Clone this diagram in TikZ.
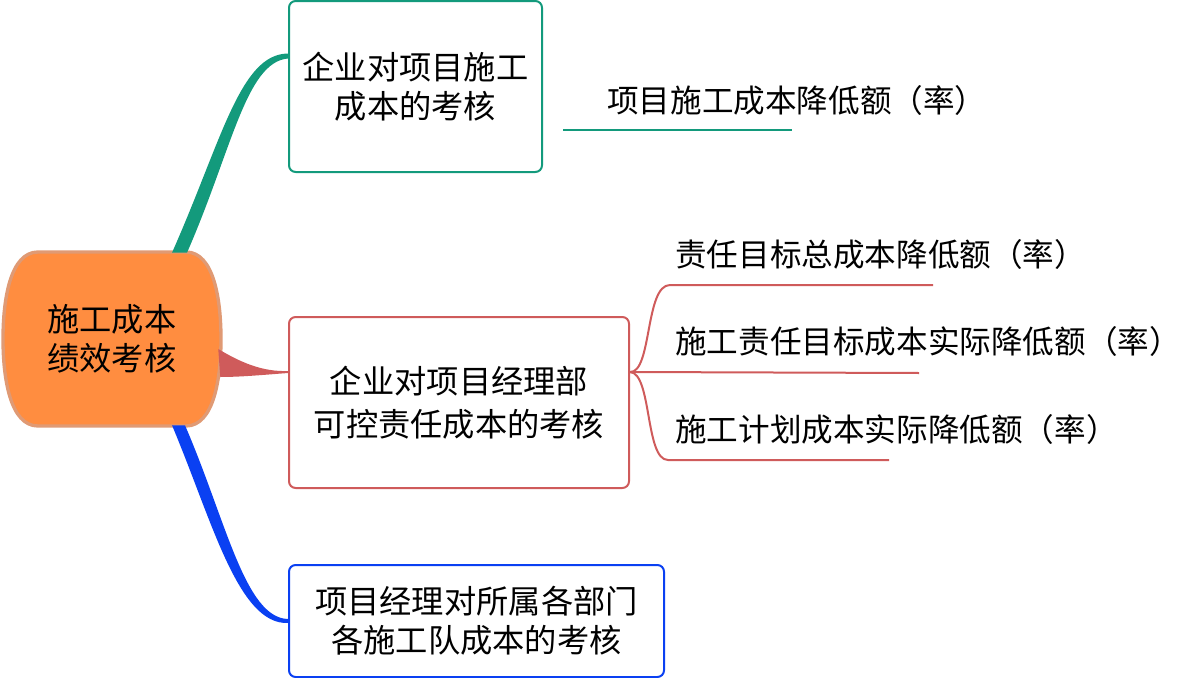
\documentclass[tikz,border=0pt]{standalone}
\usepackage{fontspec}
\setmainfont{Noto Sans CJK SC}
\usetikzlibrary{calc}
\definecolor{branchA}{RGB}{19,154,124}
\definecolor{branchB}{RGB}{207,91,91}
\definecolor{branchC}{RGB}{10,64,242}
\definecolor{rootfill}{RGB}{255,141,64}
\definecolor{rootline}{RGB}{224,154,116}
\tikzset{
 txt/.style={font=\fontsize{24.2}{29}\selectfont,align=center,inner sep=0pt},
 topic/.style={txt,draw,line width=1.5pt,rounded corners=5pt},
 leaf/.style={txt,anchor=west,font=\fontsize{23.7}{29}\selectfont}
}

\begin{document}
\begin{tikzpicture}[x=0.75pt,y=-0.75pt]
 \useasboundingbox (0,0) rectangle (1182,678);
 % central topic
 \filldraw[fill=rootfill,draw=rootline,line width=2.5pt]
   (38,252) -- (186,252) .. controls (214,252) and (221,300) .. (221,339)
   .. controls (221,378) and (214,426) .. (186,426) -- (38,426)
   .. controls (10,426) and (3,378) .. (3,339)
   .. controls (3,300) and (10,252) .. (38,252) -- cycle;
 \node[txt,minimum width=0.75*218pt,minimum height=0.75*174pt] (root) at (112,339) {施工成本\\绩效考核};
 % main topics
 \node[topic,draw=branchA,minimum width=0.75*253pt,minimum height=0.75*171pt] (b1) at (415.5,86.5) {企业对项目施工\\成本的考核};
 \node[topic,draw=branchB,minimum width=0.75*340pt,minimum height=0.75*171pt] (b2) at (459,402.5) {企业对项目经理部\\[3pt]可控责任成本的考核};
 \node[topic,draw=branchC,minimum width=0.75*375pt,minimum height=0.75*112pt] (b3) at (476.5,621) {项目经理对所属各部门\\各施工队成本的考核};
 % branches from the centre
 \fill[branchA] ($(root.north)+(60,1)$) .. controls (222,140) and (240,54) .. ($(b1.north west)+(0,53.5)$)
   -- ($(b1.north west)+(0,58.5)$) .. controls (246,62) and (232,150) .. ($(root.north)+(75,1)$) -- cycle;
 \fill[branchB] ($(root.east)+(-3,10)$) .. controls (240,362) and (262,372) .. ($(b2.north west)+(0,55)$)
   -- ($(b2.north west)+(0,57)$) .. controls (262,375) and (240,377) .. ($(root.east)+(-1,38)$) -- cycle;
 \fill[branchC] ($(root.south)+(60,-1)$) .. controls (212,520) and (238,625) .. ($(b3.north west)+(0,59)$)
   -- ($(b3.north west)+(0,55)$) .. controls (245,618) and (226,520) .. ($(root.south)+(73,-1)$) -- cycle;
 % sub topics
 \node[leaf] (c1) at (607,100) {项目施工成本降低额（率）};
 \draw[branchA,line width=1.5pt] (563,130) -- (792,130);
 \coordinate (j2) at ($(b2.north east)+(0,56)$);
 \node[leaf] (d1) at (675,254) {责任目标总成本降低额（率）};
 \node[leaf] (d2) at (675,341) {施工责任目标成本实际降低额（率）};
 \node[leaf] (d3) at (675,429) {施工计划成本实际降低额（率）};
 \draw[branchB,line width=1.5pt] (j2) .. controls (652,373) and (645,285) .. (670,285) -- (933,285);
 \draw[branchB,line width=1.5pt] (j2) -- (919,373);
 \draw[branchB,line width=1.5pt] (j2) .. controls (652,373) and (645,460) .. (668,460) -- (889,460);
\end{tikzpicture}
\end{document}
